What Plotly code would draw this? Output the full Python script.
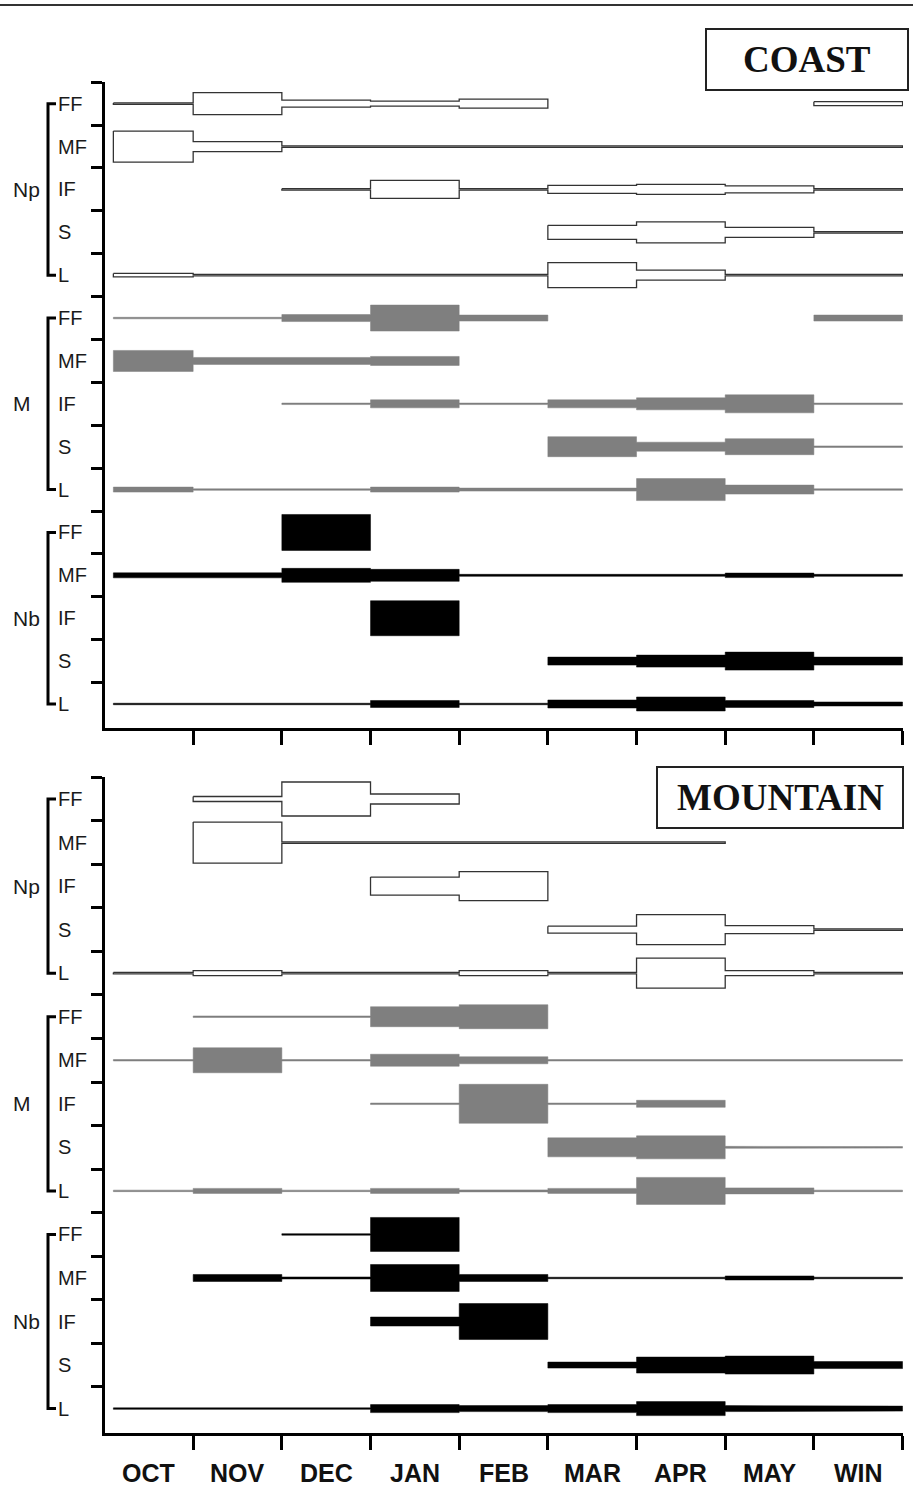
import plotly.graph_objects as go

# ---------------- data ----------------
months = ["OCT", "NOV", "DEC", "JAN", "FEB", "MAR", "APR", "MAY", "WIN"]
rows = ["FF", "MF", "IF", "S", "L"]
groups = ["Np", "M", "Nb"]

# band widths per month (0 = absent, 1.5 = trace line)
coast_Np = [
    [1.5, 22, 7, 5, 9, 0, 0, 0, 4],
    [31, 10, 1.5, 1.5, 1.5, 1.5, 1.5, 1.5, 1.5],
    [0, 0, 1.5, 18, 1.5, 8, 10, 7, 1.5],
    [0, 0, 0, 0, 0, 14, 21, 10, 1.5],
    [3.5, 1.5, 1.5, 1.5, 1.5, 25, 10, 1.5, 1.5],
]
coast_M = [
    [1.5, 1.5, 7, 26, 6, 0, 0, 0, 6],
    [21, 7, 7, 9, 0, 0, 0, 0, 0],
    [0, 0, 1.5, 8, 1.5, 8, 12, 18, 1.5],
    [0, 0, 0, 0, 0, 20, 9, 16, 1.5],
    [5, 1.5, 1.5, 5, 3, 3, 22, 9, 1.5],
]
coast_Nb = [
    [0, 0, 36, 0, 0, 0, 0, 0, 0],
    [5, 5, 14, 12, 2, 2, 2, 4.5, 2],
    [0, 0, 0, 35, 0, 0, 0, 0, 0],
    [0, 0, 0, 0, 0, 8, 12, 18, 8],
    [1.5, 1.5, 1.5, 7, 1.5, 8, 14, 7, 4],
]
mountain_Np = [
    [0, 5, 34, 10, 0, 0, 0, 0, 0],
    [0, 41, 1.5, 1.5, 1.5, 1.5, 1.5, 0, 0],
    [0, 0, 0, 18, 29, 0, 0, 0, 0],
    [0, 0, 0, 0, 0, 7, 30, 8, 1.5],
    [1.5, 5, 1.5, 1.5, 5, 1.5, 30, 5, 1.5],
]
mountain_M = [
    [0, 1.5, 1.5, 20, 24, 0, 0, 0, 0],
    [1.5, 25, 1.5, 12, 7, 1.5, 1.5, 1.5, 1.5],
    [0, 0, 0, 1.5, 39, 1.5, 7, 0, 0],
    [0, 0, 0, 0, 0, 19, 23, 2, 1.5],
    [1.5, 5, 1.5, 5, 2, 5, 27, 6, 1.5],
]
mountain_Nb = [
    [0, 0, 1.5, 34, 0, 0, 0, 0, 0],
    [0, 7, 2, 27, 7, 1.5, 1.5, 4, 1.5],
    [0, 0, 0, 9, 36, 0, 0, 0, 0],
    [0, 0, 0, 0, 0, 6, 16, 18, 7],
    [1.5, 1.5, 1.5, 8, 6, 8, 14, 6, 5],
]

# ---------------- style / layout ----------------
W, H = 913, 1488
def px(x):
    return x / W
def py(y):
    return 1 - y / H

Y_RANGE = (-0.5, 14.56)
X_START = 0.1  # first month drawn slightly inside the axis
styles = [
    dict(fill="white", line="#333333", lw=1.3),
    dict(fill="#7f7f7f", line="#7f7f7f", lw=0.5),
    dict(fill="black", line="black", lw=0.5),
]

panels = [
    dict(name="COAST", data=[coast_Np, coast_M, coast_Nb], xa="x", ya="y",
         top=82, bottom=728, box=(706, 29, 908, 90)),
    dict(name="MOUNTAIN", data=[mountain_Np, mountain_M, mountain_Nb], xa="x2", ya="y2",
         top=777, bottom=1433, box=(657, 767, 903, 828)),
]

fig = go.Figure()
shapes = []
annotations = []

for p in panels:
    ppr = (p["bottom"] - p["top"]) / (Y_RANGE[1] - Y_RANGE[0])
    for g, gdata in enumerate(p["data"]):
        st = styles[g]
        for r, vals in enumerate(gdata):
            row = g * 5 + r
            k = 0
            n = len(vals)
            while k < n:
                if vals[k] > 0:
                    j = k
                    while j + 1 < n and vals[j + 1] > 0:
                        j += 1
                    xs, ys = [], []
                    for m in range(k, j + 1):
                        h = vals[m] / ppr
                        x0 = X_START if m == 0 else m
                        xs += [x0, m + 1]
                        ys += [row - h / 2, row - h / 2]
                    for m in range(j, k - 1, -1):
                        h = vals[m] / ppr
                        x0 = X_START if m == 0 else m
                        xs += [m + 1, x0]
                        ys += [row + h / 2, row + h / 2]
                    xs.append(xs[0])
                    ys.append(ys[0])
                    fig.add_trace(go.Scatter(
                        x=xs, y=ys, mode="lines", fill="toself",
                        fillcolor=st["fill"],
                        line=dict(color=st["line"], width=st["lw"]),
                        xaxis=p["xa"], yaxis=p["ya"], hoverinfo="skip",
                        showlegend=False))
                    k = j + 1
                else:
                    k += 1

    yref = p["ya"]
    # row labels, brackets, group labels
    for g, gname in enumerate(groups):
        for r, rname in enumerate(rows):
            annotations.append(dict(
                x=px(56), y=g * 5 + r, xref="paper", yref=yref, text=rname,
                xanchor="left", yanchor="middle", showarrow=False,
                font=dict(family="Liberation Sans, Arial", size=20, color="#1a1a1a")))
        annotations.append(dict(
            x=px(11), y=g * 5 + 2, xref="paper", yref=yref, text=gname,
            xanchor="left", yanchor="middle", showarrow=False,
            font=dict(family="Liberation Sans, Arial", size=21, color="#1a1a1a")))
        y0, y1 = g * 5, g * 5 + 4
        shapes.append(dict(
            type="path", xref="paper", yref=yref,
            path=f"M {px(56)},{y0} L {px(48)},{y0} L {px(48)},{y1} L {px(56)},{y1}",
            line=dict(color="black", width=3)))

    # title box
    bx0, by0, bx1, by1 = p["box"]
    shapes.append(dict(type="rect", xref="paper", yref="paper",
                       x0=px(bx0), x1=px(bx1), y0=py(by1), y1=py(by0),
                       line=dict(color="#222", width=2), fillcolor="white"))
    annotations.append(dict(
        x=px((bx0 + bx1) / 2), y=py((by0 + by1) / 2), xref="paper", yref="paper",
        text=f"<b>{p['name']}</b>", showarrow=False, xanchor="center", yanchor="middle",
        font=dict(family="Liberation Serif, Times New Roman", size=37, color="#111")))

# month labels under the bottom panel
for i, m in enumerate(months):
    annotations.append(dict(
        x=i + 0.5, y=py(1473), xref="x2", yref="paper", text=f"<b>{m}</b>",
        showarrow=False, xanchor="center", yanchor="middle",
        font=dict(family="Liberation Sans, Arial", size=25, color="#111")))

# top rule
shapes.append(dict(type="line", xref="paper", yref="paper", x0=0, x1=1,
                   y0=py(5), y1=py(5), line=dict(color="#333", width=2)))

def xaxis_cfg(anchor):
    return dict(domain=[px(104.5), px(903)], range=[0, 9.005], anchor=anchor,
                showline=True, linewidth=3, linecolor="black",
                ticks="outside", ticklen=14, tickwidth=3, tickcolor="black",
                tickvals=list(range(1, 10)), showticklabels=False,
                showgrid=False, zeroline=False, fixedrange=True)

def yaxis_cfg(anchor, top, bottom):
    return dict(domain=[py(bottom), py(top)], range=[Y_RANGE[1], Y_RANGE[0] - 0.005],
                anchor=anchor, showline=True, linewidth=3, linecolor="black",
                ticks="outside", ticklen=11, tickwidth=3, tickcolor="black",
                tickvals=[i - 0.5 for i in range(15)], showticklabels=False,
                showgrid=False, zeroline=False, fixedrange=True)

fig.update_layout(
    width=W, height=H, margin=dict(l=0, r=0, t=0, b=0),
    paper_bgcolor="white", plot_bgcolor="white", showlegend=False,
    xaxis=xaxis_cfg("y"), yaxis=yaxis_cfg("x", 82, 728),
    xaxis2=xaxis_cfg("y2"), yaxis2=yaxis_cfg("x2", 777, 1433),
    shapes=shapes, annotations=annotations,
)

fig.write_html(
    "out.html",
    config={"displayModeBar": False},
    post_script="document.body.style.margin='0';document.body.style.overflow='hidden';",
)
